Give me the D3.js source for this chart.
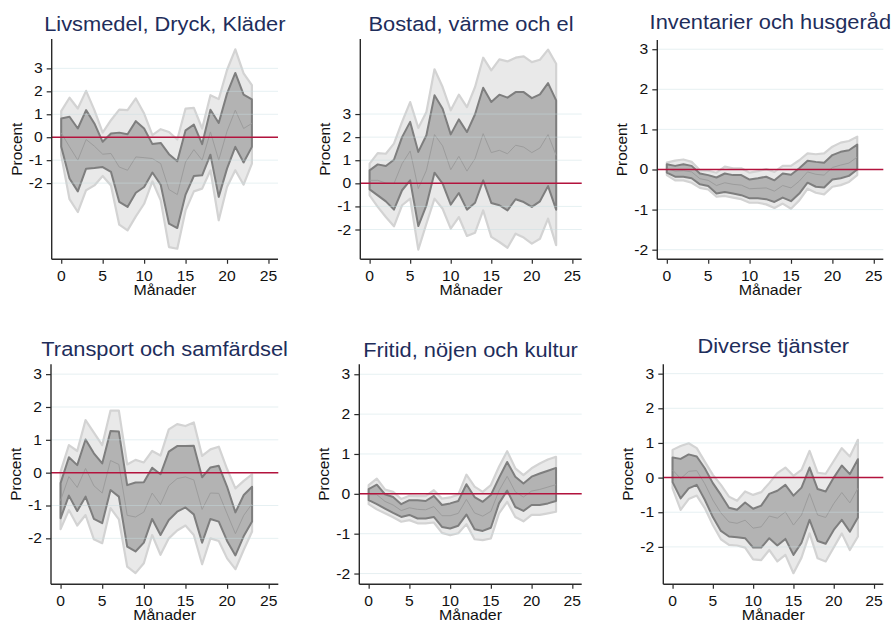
<!DOCTYPE html>
<html>
<head>
<meta charset="utf-8">
<script src="https://cdn.jsdelivr.net/npm/d3@7"></script>
<style>
  html, body { margin: 0; padding: 0; background: #ffffff; }
  svg { display: block; }
  text { font-family: "Liberation Sans", Arial, Helvetica, sans-serif; }
</style>
</head>
<body>
<svg id="chart" width="896" height="623"></svg>
<script>
// Impulse responses (percent) over months after the shock, by expenditure group.
const months = [0,1,2,3,4,5,6,7,8,9,10,11,12,13,14,15,16,17,18,19,20,21,22,23];
const xTicks = [0, 5, 10, 15, 20, 25];
const yTicks = [-2, -1, 0, 1, 2, 3];
const xLabel = "Månader";
const yLabel = "Procent";

// Livsmedel, Dryck, Kläder
const livsPoint   = [0.19,-0.42,-1.0,-0.1,-0.39,-0.74,-0.71,-1.3,-1.44,-0.86,-0.89,-0.93,-1.15,-2.28,-2.5,-1.08,-0.54,-1.0,0.23,-1.0,0.26,1.18,0.38,0.6];
const livsInnerHi = [0.82,0.89,0.38,1.18,0.6,-0.2,0.16,0.2,0.13,0.7,0.38,-0.3,-0.25,-0.74,-1.05,0.3,0.55,-0.3,1.2,0.62,1.9,2.8,1.86,1.65];
const livsInnerLo = [-0.42,-1.8,-2.36,-1.37,-1.34,-1.3,-1.51,-2.82,-3.04,-2.42,-2.17,-1.54,-2.07,-3.77,-3.96,-2.5,-1.69,-1.66,-0.76,-2.6,-1.37,-0.42,-1.1,-0.42];
const livsOuterHi = [1.14,1.72,1.25,2.02,1.18,0.2,0.74,1.2,1.18,1.69,1.03,0.09,0.35,0.23,-0.1,1.25,1.28,0.38,1.83,1.66,2.93,3.83,2.78,2.27];
const livsOuterLo = [-0.79,-2.7,-3.26,-2.31,-2.1,-1.69,-2.1,-3.81,-4.06,-3.45,-2.9,-1.92,-2.75,-4.79,-4.86,-3.19,-2.36,-2.24,-1.44,-3.62,-2.17,-1.44,-2.07,-1.15];

// Bostad, värme och el
const bostPoint   = [0.13,0.13,0.01,-0.01,0.85,1.4,-0.23,0.56,2.11,1.62,0.59,1.17,0.53,1.07,2.15,1.33,1.43,1.28,1.65,1.57,1.33,1.53,2.11,1.21];
const bostInnerHi = [0.56,0.82,0.75,1.02,2.0,2.66,1.36,2.08,3.81,3.23,2.12,2.77,2.22,2.99,4.14,3.52,3.84,3.71,3.95,3.95,3.69,3.85,4.34,3.59];
const bostInnerLo = [-0.26,-0.52,-0.78,-1.14,-0.3,0.13,-1.85,-0.95,0.46,-0.01,-0.92,-0.42,-1.14,-0.84,0.13,-0.85,-0.95,-1.17,-0.69,-0.81,-1.02,-0.78,-0.12,-1.14];
const bostOuterHi = [0.85,1.31,1.28,1.72,2.66,3.52,2.4,3.09,4.94,4.17,3.16,3.84,3.3,4.17,5.44,4.89,5.37,5.28,5.44,5.5,5.25,5.35,5.79,5.18];
const bostOuterLo = [-0.52,-1.02,-1.46,-1.86,-0.95,-0.66,-2.87,-1.75,-0.66,-1.1,-1.96,-1.46,-2.28,-2.14,-1.17,-2.32,-2.54,-2.79,-2.18,-2.35,-2.61,-2.4,-1.53,-2.68];

// Inventarier och husgeråd
const invPoint   = [0.02,-0.04,-0.03,-0.06,-0.23,-0.27,-0.4,-0.33,-0.37,-0.39,-0.48,-0.47,-0.46,-0.54,-0.4,-0.46,-0.29,-0.06,-0.12,-0.14,0.05,0.11,0.16,0.31];
const invInnerHi = [0.13,0.09,0.13,0.09,-0.1,-0.14,-0.2,-0.1,-0.14,-0.14,-0.25,-0.22,-0.18,-0.27,-0.1,-0.13,0.03,0.22,0.19,0.17,0.36,0.44,0.48,0.62];
const invInnerLo = [-0.08,-0.18,-0.18,-0.22,-0.37,-0.41,-0.6,-0.56,-0.6,-0.64,-0.72,-0.72,-0.74,-0.81,-0.7,-0.79,-0.6,-0.33,-0.43,-0.45,-0.25,-0.22,-0.16,0.0];
const invOuterHi = [0.17,0.22,0.25,0.19,-0.02,-0.03,-0.08,0.07,0.03,0.03,-0.08,-0.04,0.01,-0.06,0.09,0.09,0.23,0.4,0.38,0.4,0.57,0.67,0.71,0.82];
const invOuterLo = [-0.14,-0.27,-0.27,-0.33,-0.46,-0.5,-0.68,-0.66,-0.7,-0.74,-0.83,-0.83,-0.87,-0.96,-0.85,-0.98,-0.77,-0.48,-0.58,-0.62,-0.43,-0.39,-0.31,-0.14];

// Transport och samfärdsel
const transpPoint   = [-0.85,-0.12,-0.45,0.13,-0.4,-0.62,0.37,0.25,-1.3,-1.35,-1.2,-0.62,-0.97,-0.4,-0.18,-0.13,-0.22,-1.12,-0.62,-0.63,-1.25,-1.86,-1.3,-0.95];
const transpInnerHi = [-0.32,0.47,0.23,1.01,0.59,0.28,1.27,1.25,-0.38,-0.3,-0.29,0.15,-0.05,0.64,0.81,0.81,0.82,-0.14,0.16,0.21,-0.43,-1.21,-0.68,-0.43];
const transpInnerLo = [-1.39,-0.7,-1.17,-0.73,-1.41,-1.54,-0.53,-0.73,-2.25,-2.4,-2.13,-1.41,-1.9,-1.44,-1.19,-1.06,-1.27,-2.13,-1.41,-1.49,-2.08,-2.52,-1.93,-1.49];
const transpOuterHi = [0.03,0.84,0.66,1.6,1.22,0.84,1.89,1.89,0.25,0.39,0.31,0.66,0.52,1.32,1.48,1.42,1.53,0.51,0.71,0.79,0.11,-0.48,-0.25,-0.05];
const transpOuterLo = [-1.72,-1.14,-1.61,-1.29,-2.03,-2.15,-1.08,-1.42,-2.86,-3.06,-2.76,-1.9,-2.5,-2.0,-1.76,-1.61,-1.9,-2.79,-2.0,-2.08,-2.61,-2.94,-2.35,-1.79];

// Fritid, nöjen och kultur
const fritidPoint   = [-0.02,-0.02,-0.19,-0.28,-0.42,-0.35,-0.39,-0.4,-0.32,-0.55,-0.55,-0.49,-0.14,-0.48,-0.56,-0.44,0.08,0.44,0.05,-0.08,0.07,0.11,0.17,0.23];
const fritidInnerHi = [0.12,0.23,-0.01,-0.08,-0.26,-0.16,-0.16,-0.18,-0.05,-0.28,-0.24,-0.18,0.24,-0.08,-0.2,-0.03,0.4,0.8,0.43,0.26,0.43,0.51,0.58,0.65];
const fritidInnerLo = [-0.16,-0.26,-0.37,-0.48,-0.58,-0.53,-0.62,-0.62,-0.58,-0.83,-0.87,-0.8,-0.52,-0.89,-0.93,-0.85,-0.24,0.08,-0.33,-0.43,-0.28,-0.28,-0.24,-0.18];
const fritidOuterHi = [0.22,0.38,0.11,0.05,-0.13,-0.05,-0.06,-0.06,0.09,-0.12,-0.09,-0.02,0.48,0.18,0.05,0.22,0.68,1.07,0.64,0.47,0.64,0.76,0.86,0.93];
const fritidOuterLo = [-0.26,-0.39,-0.49,-0.59,-0.7,-0.66,-0.74,-0.74,-0.72,-0.98,-1.04,-0.99,-0.76,-1.14,-1.16,-1.12,-0.49,-0.2,-0.58,-0.69,-0.53,-0.53,-0.49,-0.45];

// Diverse tjänster
const divPoint   = [0.22,-0.03,0.18,0.2,-0.18,-0.65,-1.02,-1.28,-1.32,-1.23,-1.46,-1.42,-1.11,-1.17,-0.99,-1.37,-1.08,-0.46,-1.08,-1.15,-0.75,-0.43,-0.73,-0.31];
const divInnerHi = [0.58,0.54,0.67,0.61,0.27,-0.16,-0.5,-0.87,-0.93,-0.72,-0.9,-0.81,-0.47,-0.38,-0.21,-0.52,-0.29,0.29,-0.33,-0.4,0.0,0.35,0.1,0.53];
const divInnerLo = [-0.13,-0.6,-0.31,-0.21,-0.64,-1.14,-1.54,-1.7,-1.72,-1.75,-2.02,-2.02,-1.75,-1.96,-1.77,-2.23,-1.88,-1.22,-1.83,-1.91,-1.51,-1.22,-1.56,-1.15];
const divOuterHi = [0.8,0.91,0.99,0.85,0.46,0.08,-0.21,-0.55,-0.67,-0.4,-0.5,-0.42,-0.16,0.13,0.29,0.05,0.22,0.77,0.14,0.11,0.48,0.85,0.61,1.09];
const divOuterLo = [-0.31,-0.93,-0.62,-0.52,-0.88,-1.37,-1.78,-1.94,-1.96,-2.02,-2.36,-2.38,-2.09,-2.42,-2.23,-2.76,-2.31,-1.61,-2.33,-2.42,-2.02,-1.61,-2.09,-1.7];

// Panel contents
const panels = [
  { title: "Livsmedel, Dryck, Kläder",  point: livsPoint,   innerHi: livsInnerHi,   innerLo: livsInnerLo,   outerHi: livsOuterHi,   outerLo: livsOuterLo },
  { title: "Bostad, värme och el",      point: bostPoint,   innerHi: bostInnerHi,   innerLo: bostInnerLo,   outerHi: bostOuterHi,   outerLo: bostOuterLo },
  { title: "Inventarier och husgeråd",  point: invPoint,    innerHi: invInnerHi,    innerLo: invInnerLo,    outerHi: invOuterHi,    outerLo: invOuterLo },
  { title: "Transport och samfärdsel",  point: transpPoint, innerHi: transpInnerHi, innerLo: transpInnerLo, outerHi: transpOuterHi, outerLo: transpOuterLo },
  { title: "Fritid, nöjen och kultur",  point: fritidPoint, innerHi: fritidInnerHi, innerLo: fritidInnerLo, outerHi: fritidOuterHi, outerLo: fritidOuterLo },
  { title: "Diverse tjänster",          point: divPoint,    innerHi: divInnerHi,    innerLo: divInnerLo,    outerHi: divOuterHi,    outerLo: divOuterLo }
];

// Plot-region geometry and axis ranges for each panel
const layout = [
  { left: 51.7,  right: 278,   top: 39,    bottom: 259.3, yDomain: [-5.32, 4.28], titleY: 31 },
  { left: 360.3, right: 581.7, top: 39,    bottom: 259.3, yDomain: [-3.29, 6.25], titleY: 30.7 },
  { left: 657.3, right: 883.3, top: 40,    bottom: 259.3, yDomain: [-2.24, 3.23], titleY: 28.5 },
  { left: 51,    right: 278.3, top: 364.3, bottom: 584.3, yDomain: [-3.4, 3.3],   titleY: 356 },
  { left: 359.3, right: 581.7, top: 364.3, bottom: 584.3, yDomain: [-2.27, 3.25], titleY: 356.5 },
  { left: 663.3, right: 883.3, top: 364.3, bottom: 584.3, yDomain: [-3.08, 3.27], titleY: 353.3 }
];
const xDomain = [-1.15, 26.15];

const style = {
  title: "#1e2d5b",
  axis: "#2a2a2a",
  grid: "rgb(200,222,226)",
  gridOpacity: 0.45,
  zero: "#b3133d",
  outerFill: "#e9e9e9",
  outerStroke: "#d3d3d3",
  innerFill: "#b3b3b3",
  innerStroke: "#7e7e7e",
  point: "#9c9c9c",
  text: "#111111"
};

const svg = d3.select("#chart");

function label(g, x, y, str, opts) {
  const o = Object.assign({ size: 14, anchor: "middle", rotate: 0, sx: 1.12, fill: style.text }, opts || {});
  g.append("text")
    .attr("transform", `translate(${x},${y}) rotate(${o.rotate}) scale(${o.sx},1)`)
    .attr("text-anchor", o.anchor)
    .attr("font-size", o.size)
    .attr("fill", o.fill)
    .text(str);
}

panels.forEach((p, i) => {
  const L = layout[i];
  const x = d3.scaleLinear().domain(xDomain).range([L.left, L.right]);
  const y = d3.scaleLinear().domain(L.yDomain).range([L.bottom, L.top]);
  const g = svg.append("g");

  const rows = months.map((m, k) => ({
    m, point: p.point[k], innerHi: p.innerHi[k], innerLo: p.innerLo[k], outerHi: p.outerHi[k], outerLo: p.outerLo[k]
  }));

  // Outer confidence band
  const outerArea = d3.area().x(d => x(d.m)).y0(d => y(d.outerLo)).y1(d => y(d.outerHi));
  g.append("path").datum(rows).attr("d", outerArea)
    .attr("fill", style.outerFill).attr("stroke", style.outerStroke)
    .attr("stroke-width", 2.2).attr("stroke-linejoin", "round");

  // Inner confidence band
  const innerArea = d3.area().x(d => x(d.m)).y0(d => y(d.innerLo)).y1(d => y(d.innerHi));
  g.append("path").datum(rows).attr("d", innerArea)
    .attr("fill", style.innerFill).attr("stroke", style.innerStroke)
    .attr("stroke-width", 2).attr("stroke-linejoin", "round");

  // Point estimate
  const line = d3.line().x(d => x(d.m)).y(d => y(d.point));
  g.append("path").datum(rows).attr("d", line)
    .attr("fill", "none").attr("stroke", style.point).attr("stroke-width", 1);

  // Horizontal gridlines
  g.append("g").selectAll("line").data(yTicks).join("line")
    .attr("x1", L.left).attr("x2", L.right)
    .attr("y1", d => y(d)).attr("y2", d => y(d))
    .attr("stroke", style.grid).attr("stroke-opacity", style.gridOpacity).attr("stroke-width", 1);

  // Zero reference line
  g.append("line")
    .attr("x1", L.left).attr("x2", L.right)
    .attr("y1", y(0)).attr("y2", y(0))
    .attr("stroke", style.zero).attr("stroke-width", 1.5);

  // Y axis
  const yAxis = d3.axisLeft(y).tickValues(yTicks).tickSize(5).tickFormat("");
  const ya = g.append("g").attr("transform", `translate(${L.left},0)`).call(yAxis);
  ya.select(".domain").attr("d", `M0,${L.top}V${L.bottom}`).attr("stroke", style.axis).attr("stroke-width", 1.4);
  ya.selectAll(".tick line").attr("stroke", style.axis).attr("stroke-width", 1.2);
  yTicks.forEach(v => label(g, L.left - 9, y(v) + 5, String(v), { anchor: "end" }));

  // X axis
  const xAxis = d3.axisBottom(x).tickValues(xTicks).tickSize(4.5).tickFormat("");
  const xa = g.append("g").attr("transform", `translate(0,${L.bottom})`).call(xAxis);
  xa.select(".domain").attr("d", `M${L.left},0H${L.right}`).attr("stroke", style.axis).attr("stroke-width", 1.4);
  xa.selectAll(".tick line").attr("stroke", style.axis).attr("stroke-width", 1.2);
  xTicks.forEach(v => label(g, x(v), L.bottom + 21.3, String(v)));

  // Axis titles
  const cx = (L.left + L.right) / 2;
  const cy = (L.top + L.bottom) / 2;
  label(g, cx, L.bottom + 35.3, xLabel, { sx: 1.14 });
  label(g, L.left - 30, cy, yLabel, { rotate: -90, sx: 1.1 });

  // Panel title
  label(g, cx, L.titleY, p.title, { size: 19.5, fill: style.title, sx: 1.12 });
});
</script>
</body>
</html>
